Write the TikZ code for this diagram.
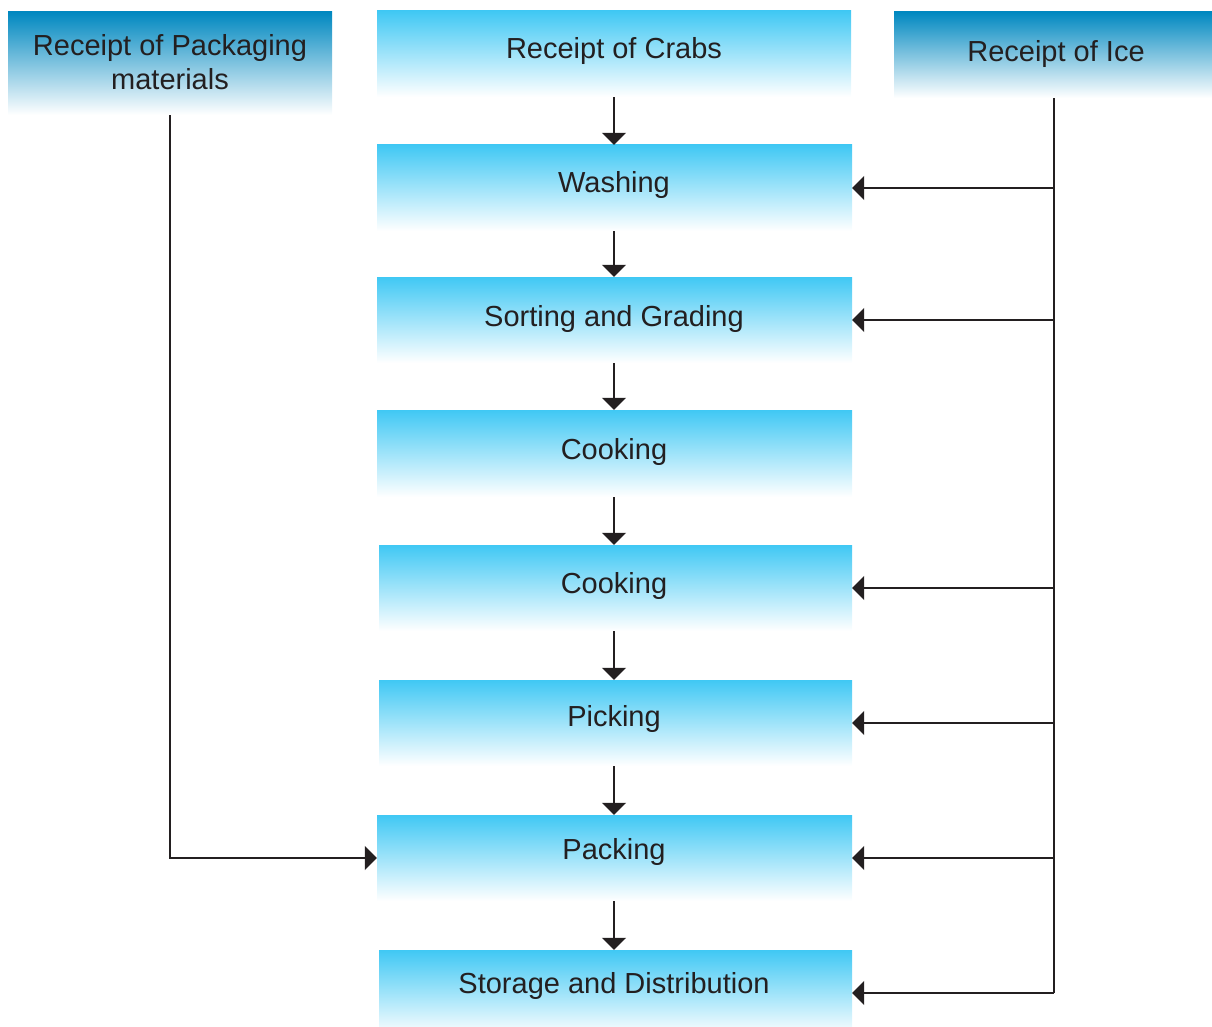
\documentclass[tikz,border=0pt]{standalone}
\usepackage{fontspec}
\setmainfont{Liberation Sans}
\usetikzlibrary{arrows.meta}
\definecolor{inkc}{RGB}{35,31,32}
\definecolor{cyantop}{RGB}{64,200,244}
\definecolor{cyanmid}{RGB}{140,218,246}
\definecolor{deeptop}{RGB}{0,136,192}
\definecolor{deepmid}{RGB}{112,168,210}
\tikzset{
  stepbox/.style={inner sep=0pt, top color=cyantop, middle color=cyanmid, bottom color=white,
                  minimum width=474pt, minimum height=86pt},
  srcbox/.style={inner sep=0pt, top color=deeptop, middle color=deepmid, bottom color=white},
  lbl/.style={anchor=base, text=inkc, inner sep=0pt, font=\fontsize{29pt}{34pt}\selectfont, align=center},
  arr/.style={draw=inkc, line width=1.8pt, -{Triangle[length=12pt,width=24pt]}},
  bus/.style={draw=inkc, line width=1.8pt}
}
\begin{document}
\begin{tikzpicture}[x=1pt,y=1pt]
\useasboundingbox (0,0) rectangle (1212,-1027);
\clip (0,0) rectangle (1212,-1027);

% source boxes
\node[srcbox, minimum width=324pt, minimum height=103pt] (pkg) at (170,-63.5) {};
\node[srcbox, minimum width=320pt, minimum height=86pt] (ice) at (1054,-55) {};
\node[lbl] (pkgT) at (170,-90) {Receipt of Packaging\\materials};
\node[lbl] (iceT) at (1056,-62) {Receipt of Ice};

% process steps
\node[stepbox] (crabs) at (614,-54) {};
\node[stepbox, minimum width=475pt] (wash) at (614.5,-188) {};
\node[stepbox, minimum width=475pt] (sort) at (614.5,-320) {};
\node[stepbox, minimum width=475pt, minimum height=87pt] (cook1) at (614.5,-453.5) {};
\node[stepbox, minimum width=473pt] (cook2) at (615.5,-588) {};
\node[stepbox, minimum width=473pt] (pick) at (615.5,-723) {};
\node[stepbox, minimum width=475pt] (pack) at (614.5,-858) {};
\node[stepbox, minimum width=473pt] (store) at (615.5,-993) {};

\node[lbl] (crabsT) at (614,-59) {Receipt of Crabs};
\node[lbl] (washT) at (614,-193) {Washing};
\node[lbl] (sortT) at (614,-326) {Sorting and Grading};
\node[lbl] (cook1T) at (614,-459) {Cooking};
\node[lbl] (cook2T) at (614,-593) {Cooking};
\node[lbl] (pickT) at (614,-726) {Picking};
\node[lbl] (packT) at (614,-859) {Packing};
\node[lbl] (storeT) at (614,-993) {Storage and Distribution};

% main flow
\draw[arr] (crabs.south) -- (crabs.south |- wash.north);
\draw[arr] (crabs.south |- wash.south) -- (crabs.south |- sort.north);
\draw[arr] (crabs.south |- sort.south) -- (crabs.south |- cook1.north);
\draw[arr] (crabs.south |- cook1.south) -- (crabs.south |- cook2.north);
\draw[arr] (crabs.south |- cook2.south) -- (crabs.south |- pick.north);
\draw[arr] (crabs.south |- pick.south) -- (crabs.south |- pack.north);
\draw[arr] (crabs.south |- pack.south) -- (crabs.south |- store.north);

% ice supply line
\draw[bus] (ice.south) -- (ice.south |- store.east);
\foreach \s in {wash,sort,cook2,pick,pack,store}
  \draw[arr] (ice.south |- \s.east) -- (\s.east);

% packaging materials line
\draw[arr] (pkg.south) -- (pkg.south |- pack.west) -- (pack.west);
\end{tikzpicture}
\end{document}
